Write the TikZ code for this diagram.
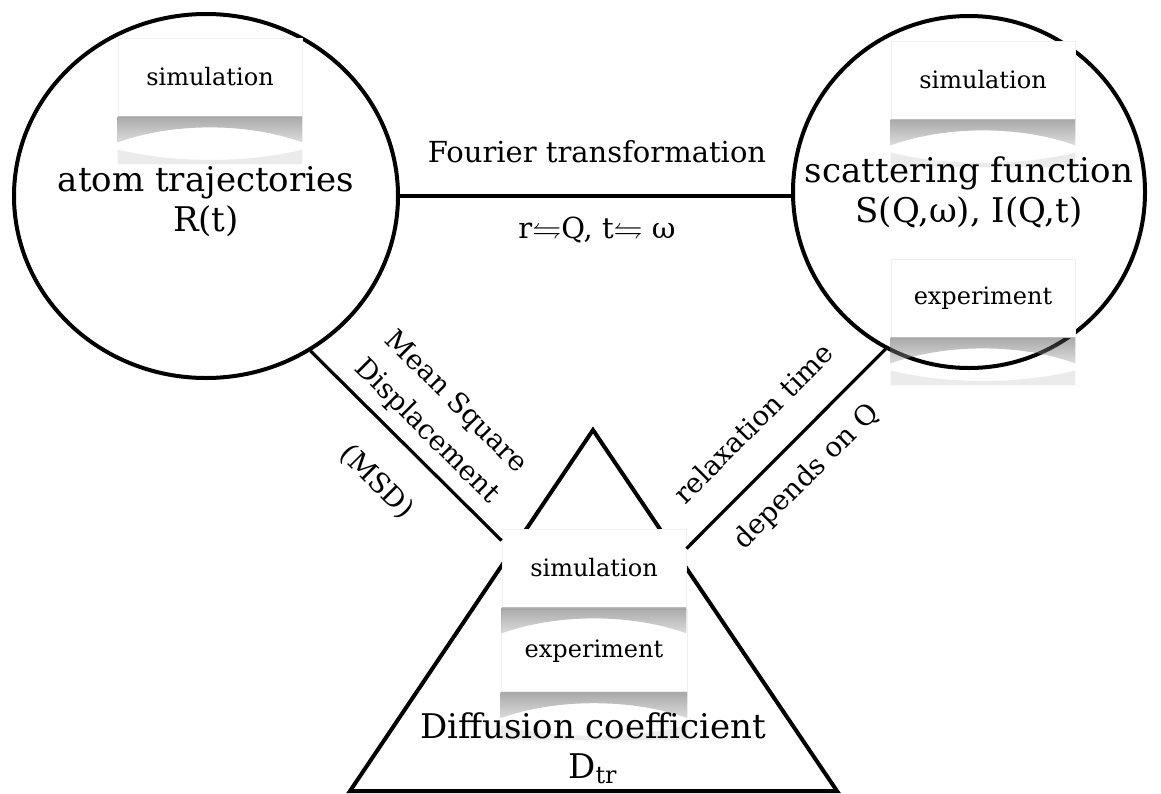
\documentclass[tikz,border=0pt]{standalone}
\usepackage{fontspec}
\usepackage{amssymb}
\setmainfont{DejaVu Serif}
\usetikzlibrary{shapes.geometric,positioning,calc}

\tikzset{
  bubble/.style={draw, line width=2pt, inner sep=0pt},
  bigtext/.style={align=center, inner sep=1pt, font=\fontsize{17}{20}\selectfont},
  tagbox/.style={fill=white, draw=gray!12, minimum width=92pt, minimum height=39pt, inner sep=0pt, font=\fontsize{12}{14}\selectfont},
  link/.style={line width=1.6pt},
  edgelabel/.style={font=\fontsize{13.8}{20.5}\selectfont, align=center, inner sep=1pt},
}

% curled shadow under a label box, and its faint mirror
\newcommand{\curlshadow}[1]{%
  \shade[top color=black!75, bottom color=black!30, fill opacity=0.45]
    (#1.south west) -- ($(#1.south west)+(0,26)$)
    .. controls +(55,-20) and +(-55,-20) .. ($(#1.south east)+(0,26)$)
    -- (#1.south east) -- cycle;
}
\newcommand{\curlmirror}[1]{%
  \fill[black, fill opacity=0.08]
    ($(#1.south west)+(0,48)$) -- ($(#1.south west)+(0,33)$)
    .. controls +(55,14) and +(-55,14) .. ($(#1.south east)+(0,33)$)
    -- ($(#1.south east)+(0,48)$) -- cycle;
}

\begin{document}
\begin{tikzpicture}[x=0.5pt,y=-0.5pt]
	\useasboundingbox (0,0) rectangle (1161,793);

	% the two bubbles
	\node[bubble, ellipse, minimum width=192pt, minimum height=182pt] (traj) at (206,196) {};
	\node[bubble, circle, minimum size=176pt] (scat) at (969,192) {};

	% the triangle
	\coordinate (apex) at (593,430);
	\coordinate (baseL) at (350,791);
	\coordinate (baseR) at (837,791);
	\draw[line width=2pt] (baseL) -- (apex) -- (baseR) -- cycle;

	% label boxes
	\node[tagbox] (trajsim) at (210,77) {simulation};
	\node[tagbox] (scatsim) at (983,80) {simulation};
	\node[tagbox] (scatexp) at (983,298) {experiment};
	\node[tagbox] (diffsim) at (594,568) {simulation};
	\node[tagbox, below=1pt of diffsim, minimum width=93pt, minimum height=41pt] (diffexp) {experiment};

	% connectors
	\coordinate (fourierEnd) at (traj.east -| scat.west);
	\draw[link] (traj.east) -- (fourierEnd);
	\draw[link] (traj.-56) -- ($(diffsim.north west)+(0,12)$);
	\draw[link] (scat.-118) -- ($(diffsim.north east)+(0,20)$);

	\curlshadow{trajsim} \curlmirror{trajsim}
	\curlshadow{scatsim} \curlmirror{scatsim}
	\curlshadow{scatexp} \curlmirror{scatexp}
	\curlshadow{diffsim}
	\curlshadow{diffexp} \curlmirror{diffexp}

	% texts of the three quantities
	\node[bigtext] (trajtext) at (206,202) {atom trajectories\\R(t)};
	\node[bigtext] (scattext) at (969,192) {scattering function\\S(Q,ω), I(Q,t)};
	\node[bigtext] (diff) at (593,748) {Diffusion coefficient\\D\textsubscript{tr}};

	% connector labels
	\node[edgelabel, font=\fontsize{14.5}{17}\selectfont] (fourier) at (597,152) {Fourier transformation};
	\node[edgelabel, font=\fontsize{14.5}{17}\selectfont] (swap) at (597,230) {r$\leftrightharpoons$Q, t$\leftrightharpoons$ ω};
	\node[edgelabel, rotate=-45] (msd) at (441,417) {Mean Square\\Displacement};
	\node[edgelabel, rotate=-45] (msdshort) at (377,482) {(MSD)};
	\node[edgelabel, rotate=45] (relax) at (753,423) {relaxation time};
	\node[edgelabel, rotate=45] (dependQ) at (807,477) {depends on Q};
\end{tikzpicture}
\end{document}
